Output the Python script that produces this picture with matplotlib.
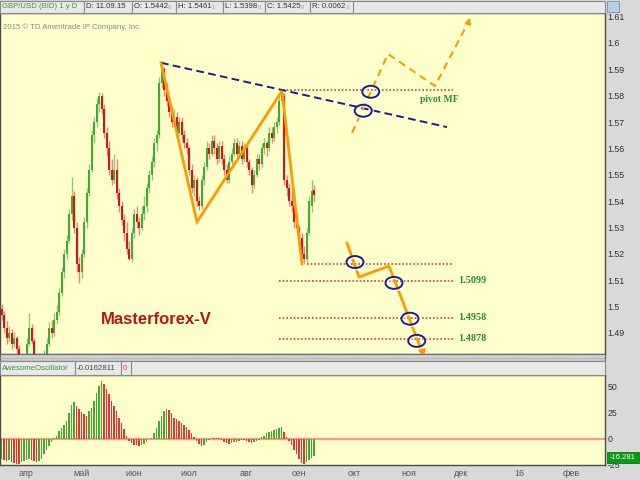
import matplotlib
matplotlib.use('Agg')
import matplotlib.pyplot as plt
import matplotlib.patches as mpatches
from matplotlib import font_manager
import numpy as np
import pandas as pd

# ---------------- data ----------------
opens = [1.4990, 1.4970, 1.4920, 1.4880, 1.4900, 1.4860, 1.4880, 1.4840, 1.4800, 1.4760,
         1.4780, 1.4860, 1.4920, 1.4870, 1.4800, 1.4760, 1.4720, 1.4780, 1.4820, 1.4860,
         1.4920, 1.4900, 1.4950, 1.4980, 1.5050, 1.5130, 1.5200, 1.5250, 1.5350, 1.5420,
         1.5300, 1.5160, 1.5130, 1.5200, 1.5320, 1.5430, 1.5520, 1.5650, 1.5700, 1.5770,
         1.5800, 1.5750, 1.5660, 1.5600, 1.5520, 1.5480, 1.5520, 1.5430, 1.5380, 1.5330,
         1.5280, 1.5220, 1.5180, 1.5280, 1.5350, 1.5320, 1.5300, 1.5350, 1.5380, 1.5450,
         1.5500, 1.5550, 1.5620, 1.5650, 1.5850, 1.5900, 1.5820, 1.5780, 1.5740, 1.5700,
         1.5720, 1.5660, 1.5700, 1.5650, 1.5620, 1.5600, 1.5520, 1.5450, 1.5480, 1.5400,
         1.5380, 1.5480, 1.5530, 1.5600, 1.5580, 1.5630, 1.5600, 1.5560, 1.5610, 1.5560,
         1.5520, 1.5480, 1.5550, 1.5580, 1.5620, 1.5580, 1.5610, 1.5560, 1.5600, 1.5550,
         1.5520, 1.5460, 1.5500, 1.5560, 1.5540, 1.5600, 1.5620, 1.5600, 1.5660, 1.5640,
         1.5680, 1.5700, 1.5780, 1.5800, 1.5480, 1.5450, 1.5400, 1.5380, 1.5320, 1.5300,
         1.5260, 1.5200, 1.5180, 1.5280, 1.5380, 1.5442]
highs = [1.5010, 1.4985, 1.4945, 1.4925, 1.4915, 1.4905, 1.4890, 1.4855, 1.4815, 1.4800,
         1.4880, 1.4975, 1.4935, 1.4880, 1.4815, 1.4770, 1.4795, 1.4835, 1.4880, 1.4940,
         1.4950, 1.4975, 1.5005, 1.5070, 1.5150, 1.5220, 1.5270, 1.5370, 1.5490, 1.5440,
         1.5320, 1.5190, 1.5220, 1.5340, 1.5450, 1.5540, 1.5670, 1.5720, 1.5790, 1.5815,
         1.5810, 1.5770, 1.5680, 1.5630, 1.5560, 1.5580, 1.5560, 1.5450, 1.5400, 1.5350,
         1.5320, 1.5250, 1.5300, 1.5370, 1.5380, 1.5340, 1.5380, 1.5420, 1.5470, 1.5520,
         1.5570, 1.5640, 1.5670, 1.5870, 1.5930, 1.5910, 1.5850, 1.5800, 1.5760, 1.5750,
         1.5740, 1.5720, 1.5720, 1.5670, 1.5640, 1.5610, 1.5540, 1.5500, 1.5490, 1.5420,
         1.5500, 1.5550, 1.5630, 1.5620, 1.5650, 1.5650, 1.5620, 1.5630, 1.5630, 1.5580,
         1.5540, 1.5570, 1.5600, 1.5640, 1.5640, 1.5630, 1.5630, 1.5620, 1.5610, 1.5560,
         1.5530, 1.5520, 1.5580, 1.5580, 1.5620, 1.5640, 1.5630, 1.5680, 1.5680, 1.5700,
         1.5720, 1.5800, 1.5820, 1.5810, 1.5500, 1.5470, 1.5440, 1.5390, 1.5350, 1.5310,
         1.5280, 1.5230, 1.5300, 1.5420, 1.5480, 1.5461]
lows = [1.4950, 1.4900, 1.4860, 1.4865, 1.4840, 1.4845, 1.4820, 1.4780, 1.4740, 1.4745,
        1.4770, 1.4850, 1.4860, 1.4790, 1.4740, 1.4700, 1.4710, 1.4765, 1.4810, 1.4850,
        1.4880, 1.4890, 1.4935, 1.4970, 1.5040, 1.5110, 1.5180, 1.5240, 1.5330, 1.5280,
        1.5130, 1.5090, 1.5110, 1.5190, 1.5300, 1.5420, 1.5510, 1.5620, 1.5680, 1.5740,
        1.5730, 1.5640, 1.5570, 1.5500, 1.5460, 1.5470, 1.5410, 1.5360, 1.5310, 1.5250,
        1.5200, 1.5175, 1.5170, 1.5260, 1.5300, 1.5270, 1.5290, 1.5330, 1.5360, 1.5430,
        1.5480, 1.5530, 1.5590, 1.5640, 1.5830, 1.5800, 1.5760, 1.5720, 1.5680, 1.5680,
        1.5640, 1.5650, 1.5630, 1.5600, 1.5580, 1.5500, 1.5430, 1.5420, 1.5380, 1.5365,
        1.5370, 1.5460, 1.5520, 1.5560, 1.5570, 1.5580, 1.5540, 1.5550, 1.5540, 1.5500,
        1.5470, 1.5470, 1.5540, 1.5570, 1.5560, 1.5570, 1.5540, 1.5550, 1.5530, 1.5500,
        1.5430, 1.5450, 1.5490, 1.5520, 1.5530, 1.5580, 1.5570, 1.5590, 1.5620, 1.5630,
        1.5660, 1.5690, 1.5760, 1.5460, 1.5420, 1.5380, 1.5360, 1.5300, 1.5280, 1.5230,
        1.5190, 1.5165, 1.5170, 1.5270, 1.5360, 1.5398]
closes = [1.4970, 1.4920, 1.4880, 1.4900, 1.4860, 1.4880, 1.4840, 1.4800, 1.4760, 1.4780,
          1.4860, 1.4920, 1.4870, 1.4800, 1.4760, 1.4720, 1.4780, 1.4820, 1.4860, 1.4920,
          1.4900, 1.4950, 1.4980, 1.5050, 1.5130, 1.5200, 1.5250, 1.5350, 1.5420, 1.5300,
          1.5160, 1.5130, 1.5200, 1.5320, 1.5430, 1.5520, 1.5650, 1.5700, 1.5770, 1.5800,
          1.5750, 1.5660, 1.5600, 1.5520, 1.5480, 1.5520, 1.5430, 1.5380, 1.5330, 1.5280,
          1.5220, 1.5180, 1.5280, 1.5350, 1.5320, 1.5300, 1.5350, 1.5380, 1.5450, 1.5500,
          1.5550, 1.5620, 1.5650, 1.5850, 1.5900, 1.5820, 1.5780, 1.5740, 1.5700, 1.5720,
          1.5660, 1.5700, 1.5650, 1.5620, 1.5600, 1.5520, 1.5450, 1.5480, 1.5400, 1.5380,
          1.5480, 1.5530, 1.5600, 1.5580, 1.5630, 1.5600, 1.5560, 1.5610, 1.5560, 1.5520,
          1.5480, 1.5550, 1.5580, 1.5620, 1.5580, 1.5610, 1.5560, 1.5600, 1.5550, 1.5520,
          1.5460, 1.5500, 1.5560, 1.5540, 1.5600, 1.5620, 1.5600, 1.5660, 1.5640, 1.5680,
          1.5700, 1.5780, 1.5800, 1.5480, 1.5450, 1.5400, 1.5380, 1.5320, 1.5300, 1.5260,
          1.5200, 1.5180, 1.5280, 1.5400, 1.5440, 1.5425]
ao = [-19, -20, -21, -20, -22, -23, -24, -24, -22, -21,
      -20, -19, -20, -21, -22, -21, -19, -15, -11, -7,
      -3, 1, 3, 7, 10, 13, 17, 24, 32, 35,
      31, 28, 25, 23, 22, 26, 29, 36, 43, 50,
      55, 52, 47, 42, 36, 31, 26, 20, 15, 9,
      3, -2, -4, -6, -6, -7, -6, -5, -3, 0,
      1, 5, 10, 17, 22, 26, 28, 27, 24, 20,
      19, 17, 15, 13, 11, 8, 5, 2, -2, -5,
      -7, -6, -3, -1, 1, 1, 1, 1, -1, -3,
      -4, -5, -4, -3, -3, -2, -1, -1, -2, -3,
      -4, -3, -2, -1, 2, 3, 5, 6, 7, 8,
      9, 10, 11, 6, 2, -2, -6, -11, -15, -19,
      -23, -24, -22, -20, -18, -16.281]

start_date = '2015-03-18'
n_axis_bars = 242
month_labels = ['апр', 'май', 'июн', 'июл', 'авг', 'сен', 'окт', 'ноя', 'дек', '16', 'фев']
price_ticks = [1.49, 1.50, 1.51, 1.52, 1.53, 1.54, 1.55, 1.56, 1.57, 1.58, 1.59, 1.60, 1.61]
ao_ticks = [-25, 0, 25, 50]

# annotation geometry (bar index, price)
trend_x = [63.8, 178.2]
trend_y = [1.5925, 1.5681]
zig_x = [63.8, 78.2, 112.2, 120.2]
zig_y = [1.5925, 1.5321, 1.5818, 1.5162]
up_x = [140.2, 154.6, 173.4, 187.8]
up_y = [1.5659, 1.5958, 1.5837, 1.6106]
down_x = [138.2, 143.0, 155.0, 169.0]
down_y = [1.5241, 1.5112, 1.5154, 1.4797]
levels = [1.5822, 1.5162, 1.5099, 1.4958, 1.4878]
level_start = [112.6, 122.2, 111.0, 111.0, 111.0]
level_end = 180.6
level_texts = ['1.5099', '1.4958', '1.4878']
level_text_y = [1.5099, 1.4958, 1.4878]
ell_x = [147.7, 144.7, 141.4, 157.0, 163.4, 166.1]
ell_y = [1.5815, 1.5743, 1.5169, 1.5090, 1.4954, 1.4870]

# ---------------- figure ----------------
W, H = 640, 480
fig = plt.figure(figsize=(6.4, 4.8), dpi=100, facecolor='#d9d9d9')
YEL = '#ffffcc'
GREEN = '#44a832'
RED = '#dd1111'
ORANGE = '#ff9a00'
NAVY = '#1c1c8e'
SANS = ['Liberation Sans', 'DejaVu Sans']
installed = {f.name for f in font_manager.fontManager.ttflist}
NARROW = ['Liberation Sans Narrow', 'Liberation Sans'] if 'Liberation Sans Narrow' in installed else ['Liberation Sans']
SERIF = ['Liberation Serif', 'DejaVu Serif']
HDR_FS = 6.9 if NARROW[0] == 'Liberation Sans Narrow' else 5.6

def px_axes(x0, y0, x1, y1):
    return [x0 / W, 1 - y1 / H, (x1 - x0) / W, (y1 - y0) / H]

ax = fig.add_axes(px_axes(0, 13, 605, 354), facecolor=YEL)
ax2 = fig.add_axes(px_axes(0, 375, 605, 465), facecolor=YEL)

for a in (ax, ax2):
    for s in a.spines.values():
        s.set_color('#4a4a4a')
        s.set_linewidth(1.0)
    a.set_xlim(-0.6, n_axis_bars - 0.6)

# candles
n = len(closes)
idx = np.arange(n)
for i in idx:
    o, h, l, c = opens[i], highs[i], lows[i], closes[i]
    up = c >= o
    body_c = GREEN if up else RED
    wick_c = '#8cc97c' if up else '#ee8080'
    ax.vlines(i, l, h, color=wick_c, lw=1.0, zorder=2)
    ax.bar(i, max(abs(c - o), 0.0004), bottom=min(o, c), width=0.8,
           color=body_c, linewidth=0, zorder=3)

ax.set_ylim(1.48202, 1.61138)
ax.yaxis.tick_right()
ax.set_yticks(price_ticks)
ax.set_yticklabels(['%g' % t for t in price_ticks])
ax.tick_params(axis='y', length=0, pad=2, labelsize=6.3, labelcolor='#333333')
ax.tick_params(axis='x', length=0, labelbottom=False)
for lbl in ax.get_yticklabels():
    lbl.set_fontfamily(SANS)

# trend line and zigzag
ax.plot(trend_x, trend_y, color=NAVY, lw=1.4, dashes=(4, 2.2), zorder=5)
ax.plot(zig_x, zig_y, color=ORANGE, lw=2, zorder=6, solid_joinstyle='miter')

# horizontal levels
for lv, xs in zip(levels, level_start):
    ax.plot([xs, level_end], [lv, lv], color='#e03a3a', lw=1.2, dashes=(1, 1.2), zorder=4)

ax.text(167.4, 1.5784, 'pivot MF', color='#2f8f2f', fontsize=7, fontweight='bold',
        family=SERIF, va='center', ha='left', zorder=7)
for t, ty in zip(level_texts, level_text_y):
    ax.text(182.6, ty, t, color='#2f8f2f', fontsize=7.3, fontweight='bold',
            family=SERIF, va='center', ha='left', zorder=7)

# forecast paths
ax.plot(up_x[:-1] + [up_x[-1] - 0.8], up_y[:-1] + [up_y[-1] - 0.0022], color=ORANGE, lw=1.5,
        dashes=(3.5, 2.5), zorder=6)
ax.annotate('', xy=(up_x[-1], up_y[-1]), xytext=(up_x[-1] - 1.6, up_y[-1] - 0.0044),
            arrowprops=dict(arrowstyle='-|>', color=ORANGE, lw=1.2, mutation_scale=9),
            annotation_clip=False, zorder=6)
ax.plot(down_x[:-1] + [down_x[-1] - 0.5], down_y[:-1] + [down_y[-1] + 0.0025], color=ORANGE,
        lw=2, zorder=6, clip_on=False)
ax.annotate('', xy=(down_x[-1], down_y[-1]), xytext=(down_x[-1] - 1.0, down_y[-1] + 0.005),
            arrowprops=dict(arrowstyle='-|>', color=ORANGE, lw=1.5, mutation_scale=10),
            annotation_clip=False, zorder=6)

# ellipses
for ex, ey in zip(ell_x, ell_y):
    ax.add_patch(mpatches.Ellipse((ex + 0.4, ey - 0.0004), 6.8, 0.00455, fill=False,
                                  edgecolor='white', lw=2.0, alpha=0.7, zorder=7))
    ax.add_patch(mpatches.Ellipse((ex, ey), 6.8, 0.00455, fill=False,
                                  edgecolor=NAVY, lw=1.4, zorder=8))

ax.text(0.258, 0.10, 'Masterforex-V', transform=ax.transAxes, color='#b8141c',
        fontsize=12, fontweight='bold', family=SANS, ha='center', va='center')

# ---------------- AO panel ----------------
ao_colors = [GREEN if (k == 0 or ao[k] > ao[k - 1]) else '#ee3030' for k in range(len(ao))]
ax2.bar(np.arange(len(ao)), ao, width=0.45, color=ao_colors, linewidth=0, zorder=3)
ax2.axhline(0, color='#ff9a82', lw=1.6, zorder=2)
ax2.set_ylim(-24.5, 60.5)
ax2.yaxis.tick_right()
ax2.set_yticks(ao_ticks)
ax2.set_yticklabels([str(t) for t in ao_ticks])
ax2.tick_params(axis='y', length=0, pad=2, labelsize=6.3, labelcolor='#333333')

dates = pd.bdate_range(start_date, periods=n_axis_bars)
month_pos = [k for k in range(1, n_axis_bars) if dates[k].month != dates[k - 1].month]
ax2.set_xticks(month_pos)
ax2.set_xticklabels(month_labels[:len(month_pos)])
ax2.tick_params(axis='x', length=0, pad=3, labelsize=6.5, labelcolor='#555555')
for lbl in ax2.get_xticklabels() + ax2.get_yticklabels():
    lbl.set_fontfamily(SANS)

# ---------------- overlay (header / separators) ----------------
ov = fig.add_axes([0, 0, 1, 1], zorder=10)
ov.set_xlim(0, W)
ov.set_ylim(H, 0)
ov.axis('off')
ov.patch.set_alpha(0)

def box(x0, y0, x1, y1, fc='#e8e8e8', ec='#8a8a8a', lw=0.8):
    ov.add_patch(mpatches.Rectangle((x0, y0), x1 - x0, y1 - y0, facecolor=fc, edgecolor=ec, lw=lw))

# top header
box(0, 0.5, 605, 13)
hdr = [(0, 84, 'GBP/USD (BID) 1 y D', '', '#3a9a3a'),
       (84, 132, 'D: 11.09.15', '', '#333333'),
       (132, 176, 'O: 1.5442', '6', '#333333'),
       (176, 223, 'H: 1.5461', '1', '#333333'),
       (223, 265, 'L: 1.5398', '8', '#333333'),
       (265, 310, 'C: 1.5425', '9', '#333333'),
       (310, 353, 'R: 0.0062', '3', '#333333')]
for x0, x1, s, small, col in hdr:
    box(x0, 0.5, x1, 13)
    t = ov.text(x0 + 2, 7, s, fontsize=HDR_FS, color=col, family=NARROW, va='center', ha='left')
    if small:
        ov.annotate(small, xy=(1, 0.4), xycoords=t, fontsize=HDR_FS * 0.72, color='#9a9a9a',
                    family=NARROW, va='center', ha='left')
ov.text(3, 27, '2015 \u00a9 TD Ameritrade IP Company, Inc.', fontsize=5.6, color='#8a8a8a',
        family=NARROW, va='center', ha='left')
# icon
box(607, 1, 619, 12, fc='#b8cfe0', ec='#7090a8', lw=0.6)

# separator between panels
box(0, 354, 605, 361, fc='#cfcfcf', ec='#6a6a6a', lw=0.8)
ov.plot([0, 605], [357.5, 357.5], color='#9a9a9a', lw=0.6, dashes=(1, 1))

# oscillator header
box(0, 361, 605, 375)
for x0, x1, s, col in [(0, 75, 'AwesomeOscillator', '#3a9a3a'),
                        (75, 121, '-0.0162811', '#444444'),
                        (121, 131, '0', '#ee3333')]:
    box(x0, 361, x1, 375)
    ov.text(x0 + 2, 368, s, fontsize=HDR_FS, color=col, family=NARROW, va='center', ha='left')

# current AO value tag
box(607, 452, 639, 463, fc='#0a9a14', ec='#0a7a10', lw=0.6)
ov.text(623, 457.5, '-16.281', fontsize=5.5, color='white', family=SANS, va='center', ha='center')

fig.savefig('out.png', dpi=100, facecolor=fig.get_facecolor())
